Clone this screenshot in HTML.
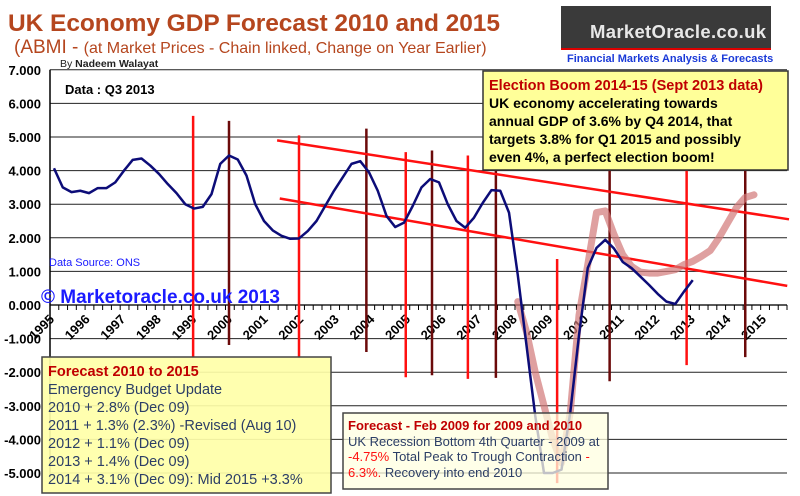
<!DOCTYPE html>
<html><head><meta charset="utf-8">
<style>
html,body{margin:0;padding:0;background:#fff;}
body{width:800px;height:496px;position:relative;overflow:hidden;font-family:"Liberation Sans",Arial,sans-serif;}
svg{position:absolute;left:0;top:0;}
</style></head>
<body>
<svg id="chart" width="800" height="496">
  <g id="grid"></g>
  <g id="ylabels"></g>
  <g id="xlabels"></g>
  <g id="vlines"></g>
  <g id="series"></g>

  <text x="8" y="31" font-size="24.5" font-weight="bold" fill="#b5461e" textLength="492">UK Economy GDP Forecast 2010 and 2015</text>
  <text x="14" y="53" fill="#b5461e"><tspan font-size="19">(ABMI - </tspan><tspan font-size="16"> (at Market Prices - Chain linked, Change on Year Earlier)</tspan></text>
  <text x="60" y="67" font-size="10.5" fill="#222">By <tspan font-weight="bold">Nadeem Walayat</tspan></text>

  <g>
    <rect x="561" y="6" width="210" height="42" fill="#3a3a3a"/>
    <rect x="561" y="48" width="210" height="2" fill="#d00"/>
    <text x="590" y="38" font-size="18.5" font-weight="bold" fill="#e8e8e8" textLength="176">MarketOracle.co.uk</text>
    <text x="567" y="62" font-size="11" font-weight="bold" fill="#1a3ad8">Financial Markets Analysis &amp; Forecasts</text>
  </g>

  <text x="65" y="94" font-size="13" font-weight="bold" fill="#000">Data : Q3 2013</text>
  <text x="49" y="266" font-size="11" fill="#1a1aff">Data Source: ONS</text>
  <text x="41" y="303" font-size="19" font-weight="bold" fill="#1a1aff">© Marketoracle.co.uk 2013</text>

  <g>
    <rect x="483" y="71" width="305" height="99" fill="#ffff99" stroke="#333" stroke-width="1.5"/>
    <text x="489" y="90" font-size="14.5" font-weight="bold" fill="#c00000">Election Boom 2014-15 (Sept 2013 data)</text>
    <text x="489" y="108" font-size="14" font-weight="bold" fill="#000">UK economy accelerating towards</text>
    <text x="489" y="126" font-size="14" font-weight="bold" fill="#000">annual GDP of 3.6% by Q4 2014, that</text>
    <text x="489" y="144" font-size="14" font-weight="bold" fill="#000">targets 3.8% for Q1 2015 and possibly</text>
    <text x="489" y="162" font-size="14" font-weight="bold" fill="#000">even 4%, a perfect election boom!</text>
  </g>

  <g>
    <rect x="42" y="357" width="289" height="136" fill="#ffffa8" fill-opacity="0.92" stroke="#444" stroke-width="1.5"/>
    <text x="48" y="376" font-size="14.5" font-weight="bold" fill="#c00000">Forecast 2010 to 2015</text>
    <text x="48" y="394" font-size="14.5" fill="#2c3e66">Emergency Budget Update</text>
    <text x="48" y="412" font-size="14.5" fill="#2c3e66">2010 + 2.8% (Dec 09)</text>
    <text x="48" y="430" font-size="14.5" fill="#2c3e66">2011 + 1.3% (2.3%) -Revised (Aug 10)</text>
    <text x="48" y="448" font-size="14.5" fill="#2c3e66">2012 + 1.1% (Dec 09)</text>
    <text x="48" y="466" font-size="14.5" fill="#2c3e66">2013 + 1.4% (Dec 09)</text>
    <text x="48" y="484" font-size="14.5" fill="#2c3e66">2014 + 3.1% (Dec 09): Mid 2015 +3.3%</text>
  </g>
</svg>

<script>
const yTicks = [7,6,5,4,3,2,1,0,-1,-2,-3,-4,-5];
const yearLabels = ["1995","1996","1997","1998","1999","2000","2001","2002","2003","2004","2005","2006","2007","2008","2009","2010","2011","2012","2013","2014","2015"];
// Quarterly actual GDP growth from 1995 Q1
const gdpActual = [4.07,3.5,3.36,3.4,3.33,3.48,3.48,3.65,4.0,4.32,4.36,4.15,3.9,3.6,3.33,3.0,2.87,2.92,3.3,4.2,4.45,4.33,3.85,3.0,2.5,2.22,2.06,1.97,1.98,2.2,2.5,2.95,3.4,3.8,4.2,4.28,3.95,3.4,2.65,2.32,2.45,2.95,3.5,3.75,3.65,3.0,2.5,2.3,2.6,3.04,3.42,3.4,2.75,0.9,-1.2,-3.3,-5.0,-5.0,-4.9,-3.2,-0.9,1.1,1.7,1.94,1.68,1.28,1.1,0.85,0.6,0.33,0.1,0.03,0.4,0.74];
// Forecast path, starting at quarter index 53
const forecastStart = 53;
const gdpForecast = [0.1,-0.8,-2.0,-3.0,-4.0,-4.7,-3.2,-0.3,1.2,2.75,2.8,2.1,1.5,1.15,0.98,0.95,0.95,1.0,1.05,1.2,1.3,1.45,1.62,2.0,2.45,2.9,3.2,3.28];
// Trend channel lines: [startQuarter, startValue, endQuarter, endValue]
const upperTrend = [25.5, 4.9, 84, 2.55];
const lowerTrend = [25.8, 3.17, 83.8, 0.57];
// Cycle marker lines: quarter index, top value, bottom value, kind
const markerQ = [15.9,20,28,35.7,40.2,43.2,47.3,50.5,57.5,63.5,72.3,79];
const markerTop = [5.63,5.48,5.05,5.25,4.55,4.6,4.45,4.0,1.37,4.0,4.0,4.0];
const markerBot = [-1.55,-1.19,-1.58,-1.4,-2.15,-2.09,-2.2,-2.17,-5.3,-2.27,-1.79,-1.55];
const markerKind = ["red","dark","red","dark","red","dark","red","dark","red","dark","red","dark"];

const svgNS = "http://www.w3.org/2000/svg";
const X0 = 54, QW = 8.75, Y0 = 305, YU = 33.6, PL = 50, PR = 787;
const xq = q => X0 + q*QW;
const yv = v => Y0 - v*YU;
function mk(tag, attrs, parent){const e=document.createElementNS(svgNS,tag);for(const k in attrs)e.setAttribute(k,attrs[k]);parent.appendChild(e);return e;}

const grid = document.getElementById('grid');
yTicks.forEach(v=>{
  const l = mk('line',{x1:PL,x2:PR,y1:yv(v),y2:yv(v),stroke:'#222','stroke-width':v===0?1.6:1},grid);
  
  
  const t = mk('text',{x:41,y:yv(v)+5,'text-anchor':'end','font-size':13,'font-weight':'bold',fill:'#000'},document.getElementById('ylabels'));
  t.textContent = v.toFixed(3);
  
  
});
mk('line',{x1:PL,x2:PL,y1:yv(7),y2:yv(-5.2),stroke:'#000','stroke-width':1.5},grid);
for(let q=0;q<=84;q++){
  const x=PL+q*(PR-PL)/84;
  mk('line',{x1:x,x2:x,y1:Y0,y2:Y0+5,stroke:'#000','stroke-width':1},grid);
}
const xl = document.getElementById('xlabels');
yearLabels.forEach((y,i)=>{
  const ax=55+i*35.6, ay=320;
  const t = mk('text',{x:ax,y:ay,'text-anchor':'end','font-size':13,'font-weight':'bold',fill:'#000',transform:`rotate(-45 ${ax} ${ay})`},xl);
  t.textContent=y;
  
  
});

const vl = document.getElementById('vlines');
markerQ.forEach((q,i)=>{
  const l = mk('line',{x1:xq(q),x2:xq(q),y1:yv(markerTop[i]),y2:yv(markerBot[i]),stroke:markerKind[i]==='red'?'#ff1010':'#6b0a0a','stroke-width':2.5},vl);
  
  
});

const s = document.getElementById('series');
[upperTrend, lowerTrend].forEach(tr=>{
  const l = mk('line',{x1:xq(tr[0]),y1:yv(tr[1]),x2:xq(tr[2]),y2:yv(tr[3]),stroke:'#ff1010','stroke-width':2.5},s);
  
  
});
const fp = mk('polyline',{points:gdpForecast.map((v,i)=>xq(forecastStart+i)+','+yv(v)).join(' '),fill:'none',stroke:'#d27878','stroke-opacity':0.7,'stroke-width':7,'stroke-linejoin':'round','stroke-linecap':'round'},s);


const ap = mk('polyline',{points:gdpActual.map((v,i)=>xq(i)+','+yv(v)).join(' '),fill:'none',stroke:'#0c0c78','stroke-width':2.5,'stroke-linejoin':'round'},s);


</script>

<svg width="800" height="496" style="pointer-events:none">
  <g>
    <rect x="343" y="413" width="265" height="76" fill="#ffffe0" fill-opacity="0.75" stroke="#444" stroke-width="1.5"/>
    <text x="348" y="430" font-size="13" font-weight="bold" fill="#c00000">Forecast - Feb  2009 for 2009 and 2010</text>
    <text x="348" y="446" font-size="13" fill="#2c3e66">UK Recession Bottom  4th Quarter - 2009 at</text>
    <text x="348" y="461" font-size="13" fill="#2c3e66"><tspan fill="#ff1010">-4.75%</tspan>  Total Peak to Trough Contraction <tspan fill="#ff1010">-</tspan></text>
    <text x="348" y="477" font-size="13" fill="#2c3e66"><tspan fill="#ff1010">6.3%.</tspan> Recovery into end 2010</text>
  </g>
</svg>
</body></html>
